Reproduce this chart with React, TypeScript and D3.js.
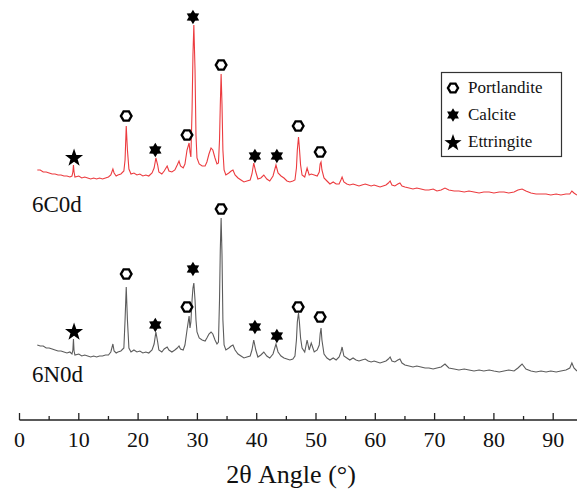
import React from 'react';
import * as d3 from 'd3';

// 2θ positions (°) shared by both patterns
const angles = [
  3.0,3.5,4.0,4.5,5.0,5.5,6.0,6.5,7.0,7.5,
  8.0,8.5,8.85,9.0,9.1,9.2,9.35,10.0,10.5,11.0,
  11.5,12.0,12.5,13.0,13.5,14.0,14.5,15.0,15.4,15.75,
  15.95,16.3,16.6,17.1,17.6,17.8,18.0,18.2,18.45,18.8,
  19.3,19.8,20.3,20.8,21.3,21.8,22.35,22.7,23.0,23.3,
  23.5,24.0,24.4,24.9,25.2,25.7,26.2,26.6,26.9,27.15,
  27.6,27.9,28.25,28.6,28.75,28.9,29.1,29.25,29.4,29.6,
  29.76,29.93,30.3,30.8,31.3,31.6,31.95,32.3,32.6,32.97,
  33.3,33.55,33.73,33.86,34.0,34.15,34.3,34.5,34.8,35.3,
  35.7,36.0,36.35,36.85,37.35,37.85,38.35,38.9,39.2,39.5,
  39.85,40.2,40.7,41.2,41.7,42.2,42.75,43.25,43.6,44.1,
  44.6,45.1,45.6,46.1,46.45,46.7,46.85,47.05,47.2,47.4,
  47.65,48.1,48.5,48.85,49.2,49.7,50.2,50.55,50.7,50.85,
  51.0,51.35,51.85,52.35,52.9,53.4,53.9,54.2,54.4,54.7,
  55.2,55.7,56.25,56.75,57.25,57.75,58.3,58.8,59.3,59.8,
  60.3,60.8,61.3,61.8,62.2,62.5,62.8,63.3,63.8,64.15,
  64.5,65.0,65.7,66.35,67.0,67.7,68.4,69.05,69.75,70.4,
  71.1,71.75,72.4,73.3,74.1,75.0,75.8,76.65,77.5,78.3,
  79.2,80.0,80.9,81.7,82.5,83.4,84.05,84.75,85.4,86.25,
  87.1,87.95,88.8,89.6,90.5,91.3,92.15,92.8,93.15,93.5,
  94.0,
];

// intensity (a.u., stacked) of 6C0d
const int6C0d = [
  250,250,248,248,247,246,246,245,245,244,
  244,243,244,248,255,248,243,244,242,243,
  242,241,242,241,242,241,242,243,245,251,
  247,244,245,246,249,260,294,270,251,246,
  247,245,246,244,245,244,247,252,262,255,
  248,246,249,254,249,248,250,255,259,254,
  252,256,270,277,268,263,310,365,395,350,
  285,262,256,254,254,258,266,272,270,262,
  256,257,280,315,346,315,270,250,245,247,
  249,250,245,242,240,238,239,240,246,257,
  248,241,242,245,241,239,244,255,247,244,
  242,239,238,239,240,252,270,283,272,255,
  245,243,252,245,246,245,244,248,256,258,
  250,242,239,236,238,236,236,240,243,238,
  236,235,236,235,234,235,236,235,234,235,
  234,233,234,235,237,239,235,234,236,237,
  234,233,232,231,232,231,230,230,231,229,
  230,232,230,229,229,228,229,228,227,228,
  228,227,228,228,227,228,230,231,229,227,
  226,226,226,225,226,225,226,226,229,227,
  225,
];

// intensity (a.u., stacked) of 6N0d
const int6N0d = [
  75,74,74,72,72,71,70,69,69,68,
  67,68,66,70,81,69,65,66,64,65,
  64,63,64,63,64,64,65,65,68,76,
  69,67,68,69,72,100,133,100,72,68,
  70,68,69,67,68,67,70,76,88,78,
  70,68,71,73,70,68,70,72,74,71,
  70,75,90,104,92,98,120,132,137,120,
  100,88,82,80,79,82,86,88,86,80,
  76,78,120,170,202,165,100,75,70,72,
  74,75,70,66,64,62,63,64,70,80,
  70,63,65,68,64,62,66,76,68,64,
  62,61,60,61,64,80,98,107,98,82,
  72,68,80,70,77,68,70,75,86,92,
  80,66,62,60,62,60,63,68,73,64,
  62,60,62,60,59,60,61,59,58,59,
  58,57,58,59,61,63,59,58,60,61,
  57,55,54,53,54,53,52,52,51,52,
  53,56,52,51,50,51,50,49,50,49,
  50,49,48,49,50,49,52,56,51,49,
  48,49,48,49,48,49,50,52,57,52,
  49,
];

// phase markers: P = Portlandite, C = Calcite, E = Ettringite
const markerPhase = ['E','P','C','P','C','P','C','C','P','P'];
const markerAngle = [9.2,18.0,22.9,28.25,29.25,34.0,39.7,43.4,47.0,50.7];
const markerY6C0d = [263,304,270,285,403,355,264,264,294,268];
const markerY6N0d = [89,146,95,113,151,211,93,84,113,103];

const legendPhases = ['P','C','E'];
const legendNames = ['Portlandite','Calcite','Ettringite'];
const seriesNames = ['6C0d','6N0d'];
const seriesLabelY = [208,38]; // a.u. level where label baseline sits

const majorTicks = [0,10,20,30,40,50,60,70,80,90];
const minorTicks = [5,15,25,35,45,55,65,75,85,95];

const W = 577, H = 489;
const FONT = 'Liberation Serif, Times New Roman, DejaVu Serif, serif';

function hexPath(r: number) {
  const p = d3.path();
  for (let k = 0; k < 6; k++) {
    const a = (k * Math.PI) / 3;
    const px = r * Math.cos(a), py = r * Math.sin(a);
    if (k === 0) p.moveTo(px, py); else p.lineTo(px, py);
  }
  p.closePath();
  return p.toString();
}
function starPath(n: number, R: number, r: number) {
  const p = d3.path();
  for (let k = 0; k < 2 * n; k++) {
    const a = -Math.PI / 2 + (k * Math.PI) / n;
    const rad = k % 2 === 0 ? R : r;
    const px = rad * Math.cos(a), py = rad * Math.sin(a);
    if (k === 0) p.moveTo(px, py); else p.lineTo(px, py);
  }
  p.closePath();
  return p.toString();
}

function Marker({ kind, cx, cy, s = 1 }: { kind: string; cx: number; cy: number; s?: number }) {
  if (kind === 'P') {
    return <path d={hexPath(5.3 * s)} transform={`translate(${cx},${cy})`} fill="white" stroke="black" strokeWidth={2.4} />;
  }
  if (kind === 'C') {
    return <path d={starPath(6, 7.2 * s, 4.2 * s)} transform={`translate(${cx},${cy})`} fill="black" />;
  }
  return <path d={starPath(5, 9.5 * s, 3.8 * s)} transform={`translate(${cx},${cy + 1})`} fill="black" />;
}

export default function App() {
  const x = d3.scaleLinear().domain([0, 90]).range([19.5, 553.2]);
  const y = d3.scaleLinear().domain([0, 420]).range([420, 0]);
  const axisY = 420;
  const txt = { fontFamily: FONT } as React.CSSProperties;

  const mk = (vals: number[]) =>
    d3.line<number>().x((_, i) => x(angles[i])).y((d) => y(d))(vals) || '';

  return (
    <svg width={W} height={H} style={{ position: 'absolute', left: 0, top: 0, background: 'white' }}>
      <rect width={W} height={H} fill="white" />
      <path d={mk(int6N0d)} fill="none" stroke="#5c5c5c" strokeWidth={1.1} />
      <path d={mk(int6C0d)} fill="none" stroke="#ec3b3f" strokeWidth={1.1} />

      {markerAngle.map((a, i) => (
        <g key={'m' + i}>
          <Marker kind={markerPhase[i]} cx={x(a)} cy={y(markerY6C0d[i])} />
          <Marker kind={markerPhase[i]} cx={x(a)} cy={y(markerY6N0d[i])} />
        </g>
      ))}

      {seriesNames.map((n, i) => (
        <text key={n} x={32} y={y(seriesLabelY[i])} style={txt} fontSize={23} fill="#111">{n}</text>
      ))}

      {/* legend */}
      <rect x={441.5} y={72.5} width={120} height={84} fill="white" stroke="#333" strokeWidth={1.2} />
      {legendPhases.map((k, i) => (
        <g key={k}>
          <Marker kind={k} cx={453} cy={88 + i * 27} s={0.95} />
          <text x={468} y={93 + i * 27} style={txt} fontSize={17} fill="#111">{legendNames[i]}</text>
        </g>
      ))}

      {/* x axis */}
      <line x1={x(0)} x2={W} y1={axisY} y2={axisY} stroke="#222" strokeWidth={1.3} />
      {majorTicks.map((t) => (
        <g key={'M' + t}>
          <line x1={x(t)} x2={x(t)} y1={axisY} y2={axisY - 7} stroke="#222" strokeWidth={1.3} />
          <text x={x(t)} y={axisY + 27} textAnchor="middle" style={txt} fontSize={22} fill="#111">{t}</text>
        </g>
      ))}
      {minorTicks.map((t) => (
        <line key={'m' + t} x1={x(t)} x2={x(t)} y1={axisY} y2={axisY - 4} stroke="#222" strokeWidth={1.3} />
      ))}
      <text x={291} y={483} textAnchor="middle" style={txt} fontSize={26} fill="#111">2θ Angle (°)</text>
    </svg>
  );
}
